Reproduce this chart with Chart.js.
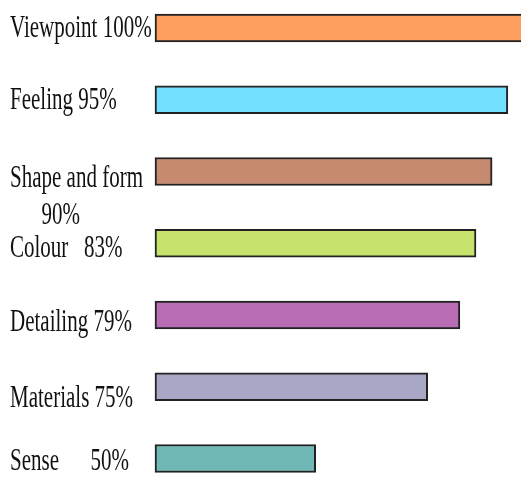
<!DOCTYPE html>
<html>
<head>
<meta charset="utf-8">
<script src="https://cdn.jsdelivr.net/npm/chart.js@4"></script>
<style>
  html, body { margin: 0; padding: 0; background: #fff; }
  #wrap { width: 521px; height: 481px; position: relative; }
</style>
</head>
<body>
<div id="wrap"><canvas id="chart"></canvas></div>
<script>
// categories and the percentage printed next to each
const categories = ["Viewpoint", "Feeling", "Shape and form", "Colour", "Detailing", "Materials", "Sense"];
const percents = [100, 95, 90, 83, 79, 75, 50];

// bar lengths as drawn in the picture (0-100 = left edge to right edge of the page)
const barValues = [102, 96.4, 92.1, 87.7, 83.3, 74.5, 43.9];

// label text as it appears, with its odd spacing and wrap
const tickLabels = [
  ["Viewpoint 100%"],
  ["Feeling 95%"],
  ["Shape and form", "      90%"],
  ["Colour   83%"],
  ["Detailing 79%"],
  ["Materials 75%"],
  ["Sense      50%"]
];

const barColors = ["#ff9f5f", "#74e0ff", "#c68a6e", "#c8e26e", "#b86db4", "#a8a8c6", "#70b8b6"];

// baseline nudge of each label from its bar centre (labels were placed by hand)
const labelNudge = [8.5, 9.5, 15, 13.5, 16, 20.5, 11.5];

const labelPlugin = {
  id: "sideLabels",
  afterDraw(chart) {
    const ctx = chart.ctx;
    const yScale = chart.scales.y;
    ctx.save();
    ctx.fillStyle = "#111";
    ctx.font = '21px "Liberation Serif", "Times New Roman", serif';
    ctx.textAlign = "left";
    ctx.textBaseline = "alphabetic";
    tickLabels.forEach((lines, i) => {
      const yc = yScale.getPixelForValue(i) + labelNudge[i];
      lines.forEach((line, j) => {
        ctx.save();
        ctx.translate(10, yc + j * 37.5);
        ctx.scale(1, 1.5);
        ctx.fillText(line, 0, 0);
        ctx.restore();
      });
    });
    ctx.restore();
  }
};

new Chart(document.getElementById("chart").getContext("2d"), {
  type: "bar",
  data: {
    labels: categories,
    datasets: [{
      label: "Share",
      data: barValues,
      backgroundColor: barColors,
      borderColor: "#222",
      borderWidth: 2,
      borderSkipped: false,
      barThickness: 28,
      clip: false
    }]
  },
  options: {
    indexAxis: "y",
    responsive: true,
    maintainAspectRatio: false,
    animation: false,
    layout: { padding: { left: 155, right: 0, top: 28, bottom: 22.5 } },
    scales: {
      x: { display: false, min: 0, max: 100 },
      y: { display: false, offset: false }
    },
    plugins: {
      legend: { display: false },
      tooltip: { enabled: false }
    }
  },
  plugins: [labelPlugin]
});
</script>
</body>
</html>
